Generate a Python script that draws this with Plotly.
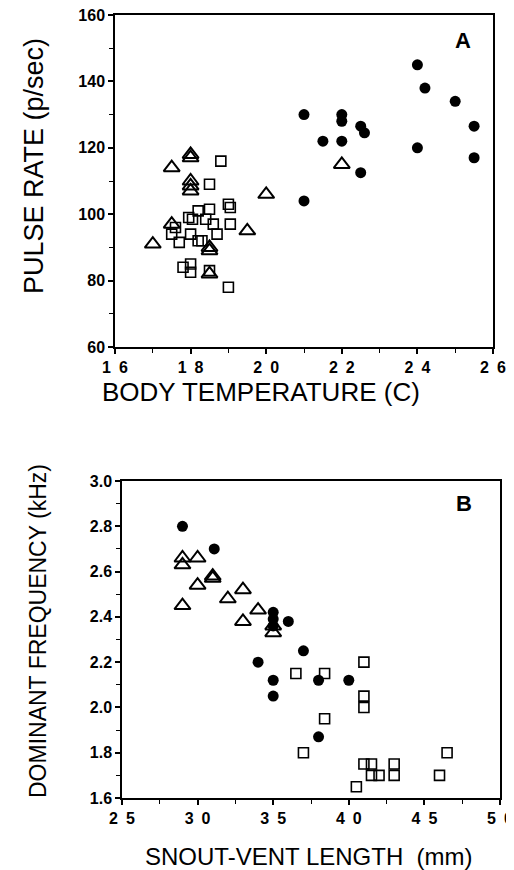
# Two-panel scatter: pulse rate vs body temperature (A) and
#   dominant frequency vs snout-vent length (B)
import plotly.graph_objects as go

# Panel A values
a_circle_temp = [21, 21.5, 22, 22, 22, 22.5, 22.6, 24, 24.2, 25, 25.5, 24, 25.5, 22.5, 21]
a_circle_pulse = [130, 122, 130, 128, 122, 126.5, 124.5, 145, 138, 134, 126.5, 120, 117, 112.5, 104]

a_tri_temp = [18, 18, 17.5, 18, 18, 18, 22, 20, 17.5, 17, 19.5, 18.5, 18.5, 18.5]
a_tri_pulse = [118, 117, 114, 110, 108.5, 107, 115, 106, 97, 91, 95, 90, 89, 82]

a_sq_temp = [18.8, 18.5, 19, 19.05, 18.2, 18.5, 17.95, 18.05, 18.4, 18.6, 19.05, 17.6,
             17.5, 18, 18.7, 17.7, 18.2, 18.3, 17.8, 18, 18, 18.5, 19]
a_sq_pulse = [116, 109, 103, 102, 101, 101.5, 99, 98.5, 98.5, 97, 97, 96,
              94, 94, 94, 91.5, 92, 92, 84, 85, 82.5, 83, 78]

# Panel B values
b_circle_len = [29, 31.1, 35, 35, 35, 36, 37, 34, 35, 38, 40, 35, 38]
b_circle_freq = [2.8, 2.7, 2.42, 2.39, 2.36, 2.38, 2.25, 2.2, 2.12, 2.12, 2.12, 2.05, 1.87]

b_tri_len = [29, 29, 30, 30, 31, 31, 32, 33, 29, 33, 34, 35, 35]
b_tri_freq = [2.66, 2.63, 2.66, 2.54, 2.58, 2.57, 2.48, 2.52, 2.45, 2.38, 2.43, 2.33, 2.36]

b_sq_len = [36.5, 38.4, 41, 41, 41, 38.4, 37, 41, 41.5, 41.5, 42, 43, 43, 40.5, 46, 46.5]
b_sq_freq = [2.15, 2.15, 2.2, 2.05, 2.0, 1.95, 1.8, 1.75, 1.75, 1.7, 1.7, 1.75, 1.7, 1.65, 1.7, 1.8]

# Tick labels (spaced digits as printed)
a_xticks = [16, 18, 20, 22, 24, 26]
a_xtext = ["1\u20026", "1\u20028", "2\u20020", "2\u20022", "2\u20024", "2\u20026"]
b_xticks = [25, 30, 35, 40, 45, 50]
b_xtext = ["2\u20025", "3\u20020", "3\u20025", "4\u20020", "4\u20025", "5\u20020"]

FONT = "Liberation Sans, Arial, Helvetica, sans-serif"

# the page body has an 8px margin, so the figure is 8px smaller
W, H, OFF = 506, 862, 8


def px(x):
    return (x - OFF) / W


def py(y):
    return 1 - (y - OFF) / H


sq = dict(symbol="square-open", size=10, color="black", line=dict(width=1.6, color="black"))
tri = dict(symbol="triangle-up-open", size=14, color="black", line=dict(width=2, color="black"))
circ = dict(symbol="circle", size=11, color="black")

fig = go.Figure()
fig.add_trace(go.Scatter(x=a_sq_temp, y=a_sq_pulse, mode="markers", marker=sq, xaxis="x", yaxis="y"))
fig.add_trace(go.Scatter(x=a_tri_temp, y=a_tri_pulse, mode="markers", marker=tri, xaxis="x", yaxis="y"))
fig.add_trace(go.Scatter(x=a_circle_temp, y=a_circle_pulse, mode="markers", marker=circ, xaxis="x", yaxis="y"))
fig.add_trace(go.Scatter(x=b_sq_len, y=b_sq_freq, mode="markers", marker=sq, xaxis="x2", yaxis="y2"))
fig.add_trace(go.Scatter(x=b_tri_len, y=b_tri_freq, mode="markers", marker=tri, xaxis="x2", yaxis="y2"))
fig.add_trace(go.Scatter(x=b_circle_len, y=b_circle_freq, mode="markers", marker=circ, xaxis="x2", yaxis="y2"))

axis_common = dict(showline=True, linecolor="black", linewidth=1.5, mirror=True,
                   ticks="outside", ticklen=5, tickwidth=1.5, tickcolor="black",
                   showgrid=False, zeroline=False, automargin=False,
                   ticklabeloverflow="allow",
                   tickfont=dict(family=FONT, size=16, color="black", weight="bold"))
minor_common = dict(ticks="outside", ticklen=4, tickwidth=1.2, tickcolor="black")

fig.update_layout(
    width=W, height=H,
    margin=dict(l=0, r=0, t=0, b=0),
    paper_bgcolor="white", plot_bgcolor="white",
    showlegend=False,
    xaxis=dict(axis_common, domain=[px(115), px(493)], anchor="y", range=[16, 26],
               tickmode="array", tickvals=a_xticks, ticktext=a_xtext,
               minor=dict(minor_common, tickvals=[17, 19, 21, 23, 25])),
    yaxis=dict(axis_common, domain=[py(347), py(15)], anchor="x", range=[60, 160],
               tickmode="array", tickvals=[60, 80, 100, 120, 140, 160],
               minor=dict(minor_common, dtick=10)),
    xaxis2=dict(axis_common, domain=[px(122), px(500)], anchor="y2", range=[25, 50],
                tickmode="array", tickvals=b_xticks, ticktext=b_xtext,
                minor=dict(minor_common, tickvals=[27.5, 32.5, 37.5, 42.5, 47.5])),
    yaxis2=dict(axis_common, domain=[py(798), py(481)], anchor="x2", range=[1.6, 3.0],
                dtick=0.2, tickformat=".1f",
                minor=dict(minor_common, dtick=0.1)),
)

title_font = dict(family=FONT, color="black")
fig.add_annotation(text="PULSE RATE (p/sec)", xref="paper", yref="paper", x=px(34), y=py(166),
                   textangle=-90, showarrow=False, font=dict(title_font, size=27),
                   xanchor="center", yanchor="middle")
fig.add_annotation(text="BODY TEMPERATURE (C)", xref="paper", yref="paper", x=px(261), y=py(392),
                   showarrow=False, font=dict(title_font, size=26), xanchor="center", yanchor="middle")
fig.add_annotation(text="DOMINANT FREQUENCY (kHz)", xref="paper", yref="paper", x=px(38), y=py(631),
                   textangle=-90, showarrow=False, font=dict(title_font, size=23),
                   xanchor="center", yanchor="middle")
fig.add_annotation(text="SNOUT-VENT LENGTH  (mm)", xref="paper", yref="paper", x=px(309), y=py(856),
                   showarrow=False, font=dict(title_font, size=24), xanchor="center", yanchor="middle")

panel_font = dict(family=FONT, size=22, color="black", weight="bold")
fig.add_annotation(text="A", xref="paper", yref="paper", x=px(463), y=py(41),
                   showarrow=False, font=panel_font, xanchor="center", yanchor="middle")
fig.add_annotation(text="B", xref="paper", yref="paper", x=px(464), y=py(503),
                   showarrow=False, font=panel_font, xanchor="center", yanchor="middle")

fig.write_html("out.html")
